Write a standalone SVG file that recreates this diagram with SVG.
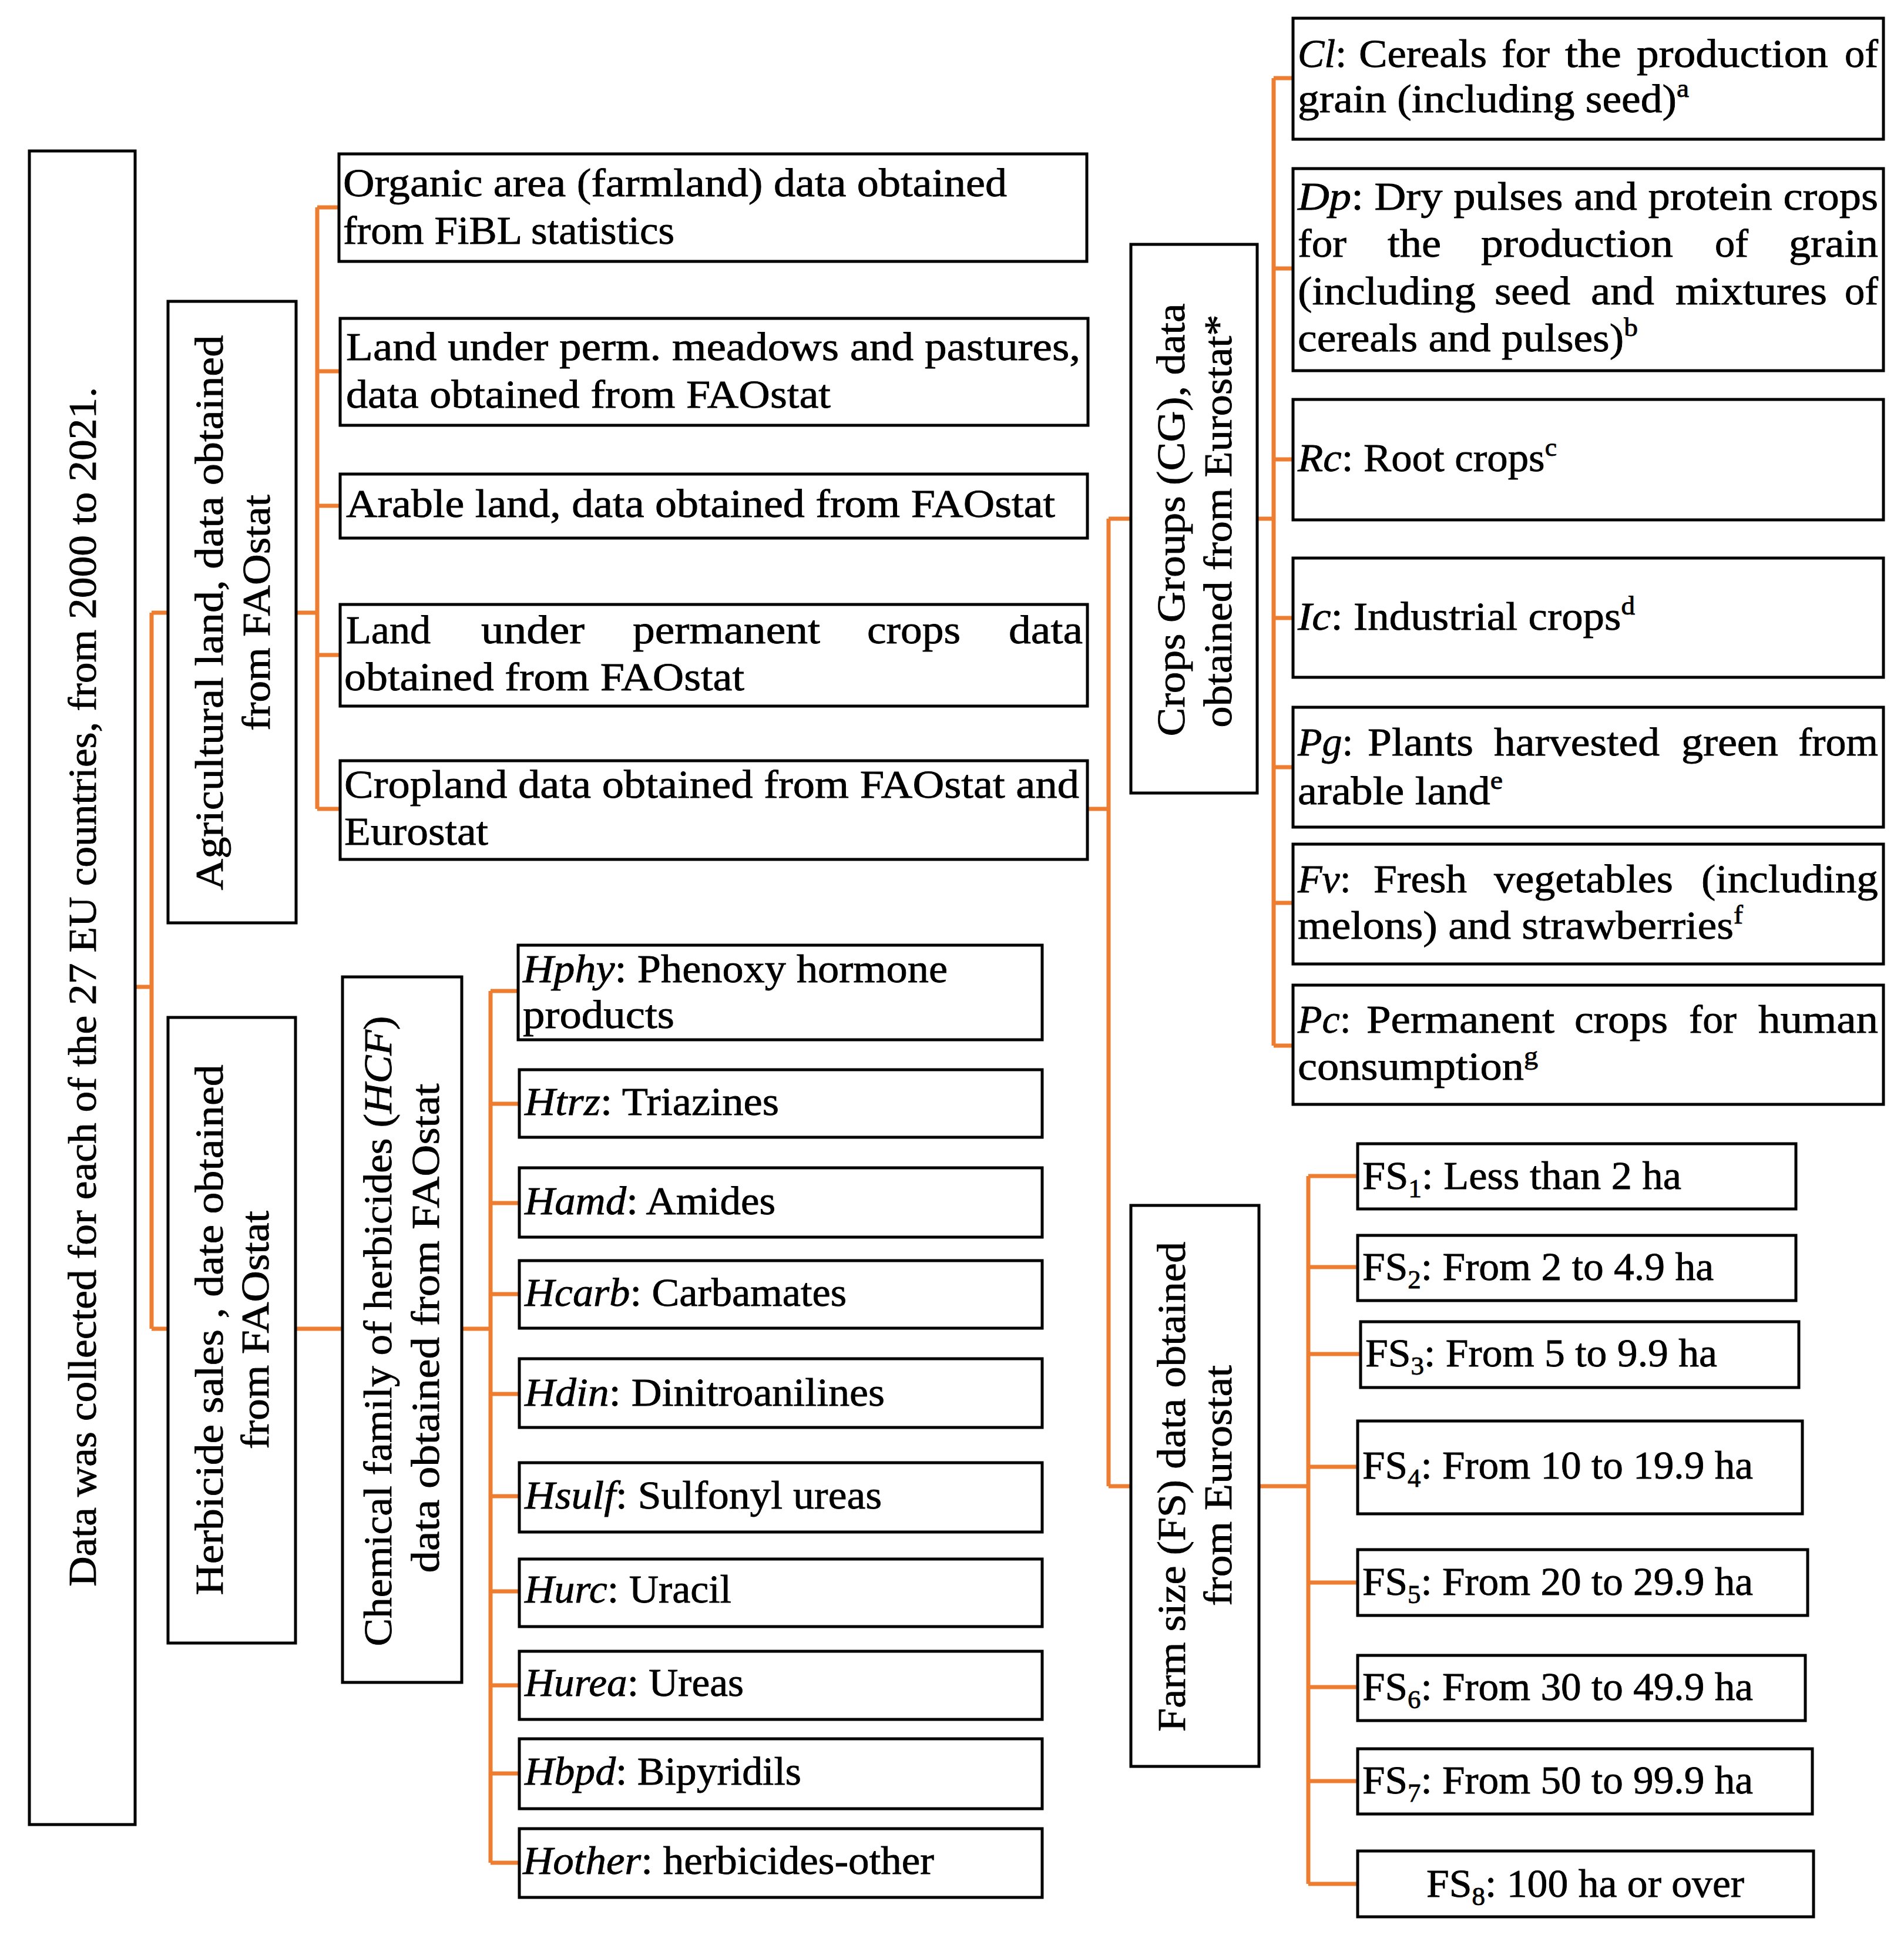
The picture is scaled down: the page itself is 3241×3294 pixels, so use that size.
<svg xmlns="http://www.w3.org/2000/svg" width="3241" height="3294" viewBox="0 0 3241 3294">
<style>
.box{fill:#fff;stroke:#000;stroke-width:5}
.con{fill:none;stroke:#ED7D31;stroke-width:7}
text{font-family:"Liberation Serif","Times New Roman",serif;font-size:68px;fill:#000;stroke:#000;stroke-width:0.8}
.i{font-style:italic}
.sup{font-size:44px}
</style>
<rect width="3241" height="3294" fill="#fff"/>
<g id="connectors">
<path class="con" d="M230 1680H258M258 1043V2262M258 1043H286M258 2262H286"/>
<path class="con" d="M504 1043H540M540 353V1377M540 353H577M540 632H579M540 861H579M540 1115H579M540 1377H579"/>
<path class="con" d="M503 2262H583M786 2262H835M835 1687V3171M835 1687H882M835 1879H884M835 2048H884M835 2203H884M835 2373H884M835 2547H884M835 2709H884M835 2869H884M835 3019H884M835 3171H884"/>
<path class="con" d="M1851 1377H1887M1887 883V2530M1887 883H1925M1887 2530H1925"/>
<path class="con" d="M2140 883H2168M2168 133V1780M2168 133H2201M2168 457H2201M2168 782H2201M2168 1052H2201M2168 1306H2201M2168 1537H2201M2168 1780H2201"/>
<path class="con" d="M2143 2530H2227M2227 2002V3207M2227 2002H2311M2227 2157H2311M2227 2305H2316M2227 2497H2311M2227 2694H2311M2227 2872H2311M2227 3032H2311M2227 3207H2311"/>
</g>
<g id="main">
<rect class="box" x="50" y="257" width="180" height="2849"/>
<text transform="translate(163,1680) rotate(-90)" text-anchor="middle" textLength="2042" lengthAdjust="spacingAndGlyphs">Data was collected for each of the 27 EU countries, from 2000 to 2021.</text>
</g>
<g id="agri">
<rect class="box" x="286" y="513" width="218" height="1058"/>
<text transform="translate(379,1043) rotate(-90)" text-anchor="middle" textLength="945" lengthAdjust="spacingAndGlyphs">Agricultural land, data obtained</text>
<text transform="translate(459,1043) rotate(-90)" text-anchor="middle" textLength="402" lengthAdjust="spacingAndGlyphs">from FAOstat</text>
</g>
<g id="herb">
<rect class="box" x="286" y="1732" width="217" height="1065"/>
<text transform="translate(379,2264) rotate(-90)" text-anchor="middle" textLength="903" lengthAdjust="spacingAndGlyphs">Herbicide sales , date obtained</text>
<text transform="translate(457,2264) rotate(-90)" text-anchor="middle" textLength="406" lengthAdjust="spacingAndGlyphs">from FAOstat</text>
</g>
<g id="hcf">
<rect class="box" x="583" y="1663" width="203" height="1201"/>
<text transform="translate(666,2266) rotate(-90)" text-anchor="middle" textLength="1073" lengthAdjust="spacingAndGlyphs">Chemical family of herbicides (<tspan class="i">HCF</tspan>)</text>
<text transform="translate(747,2261) rotate(-90)" text-anchor="middle" textLength="833" lengthAdjust="spacingAndGlyphs">data obtained from FAOstat</text>
</g>
<g id="organic">
<rect class="box" x="577" y="262" width="1273" height="183"/>
<text x="584" y="334" textLength="1130" lengthAdjust="spacingAndGlyphs">Organic area (farmland) data obtained</text>
<text x="584" y="415" textLength="564" lengthAdjust="spacingAndGlyphs">from FiBL statistics</text>
</g>
<g id="meadows">
<rect class="box" x="579" y="542" width="1273" height="182"/>
<text x="589" y="613" textLength="1250" lengthAdjust="spacingAndGlyphs">Land under perm. meadows and pastures,</text>
<text x="589" y="694" textLength="825" lengthAdjust="spacingAndGlyphs">data obtained from FAOstat</text>
</g>
<g id="arable">
<rect class="box" x="579" y="807" width="1272" height="109"/>
<text x="589" y="880" textLength="1207" lengthAdjust="spacingAndGlyphs">Arable land, data obtained from FAOstat</text>
</g>
<g id="permcrops">
<rect class="box" x="579" y="1029" width="1272" height="173"/>
<text y="1095"><tspan x="589" textLength="144" lengthAdjust="spacingAndGlyphs">Land</tspan> <tspan x="819" textLength="176" lengthAdjust="spacingAndGlyphs">under</tspan> <tspan x="1077" textLength="319" lengthAdjust="spacingAndGlyphs">permanent</tspan> <tspan x="1476" textLength="159" lengthAdjust="spacingAndGlyphs">crops</tspan> <tspan x="1717" textLength="126" lengthAdjust="spacingAndGlyphs">data</tspan></text>
<text x="586" y="1175" textLength="681" lengthAdjust="spacingAndGlyphs">obtained from FAOstat</text>
</g>
<g id="cropland">
<rect class="box" x="579" y="1295" width="1272" height="168"/>
<text x="586" y="1358" textLength="1251" lengthAdjust="spacingAndGlyphs">Cropland data obtained from FAOstat and</text>
<text x="586" y="1438" textLength="245" lengthAdjust="spacingAndGlyphs">Eurostat</text>
</g>
<g id="hphy">
<rect class="box" x="882" y="1609" width="892" height="161"/>
<text x="890" y="1672" textLength="723" lengthAdjust="spacingAndGlyphs"><tspan class="i">Hphy</tspan>: Phenoxy hormone</text>
<text x="890" y="1750" textLength="258" lengthAdjust="spacingAndGlyphs">products</text>
</g>
<g id="htrz">
<rect class="box" x="884" y="1821" width="890" height="115"/>
<text x="893" y="1898" textLength="433" lengthAdjust="spacingAndGlyphs"><tspan class="i">Htrz</tspan>: Triazines</text>
</g>
<g id="hamd">
<rect class="box" x="884" y="1988" width="890" height="118"/>
<text x="893" y="2067" textLength="427" lengthAdjust="spacingAndGlyphs"><tspan class="i">Hamd</tspan>: Amides</text>
</g>
<g id="hcarb">
<rect class="box" x="884" y="2146" width="890" height="115"/>
<text x="893" y="2223" textLength="548" lengthAdjust="spacingAndGlyphs"><tspan class="i">Hcarb</tspan>: Carbamates</text>
</g>
<g id="hdin">
<rect class="box" x="884" y="2313" width="890" height="117"/>
<text x="893" y="2393" textLength="613" lengthAdjust="spacingAndGlyphs"><tspan class="i">Hdin</tspan>: Dinitroanilines</text>
</g>
<g id="hsulf">
<rect class="box" x="884" y="2490" width="890" height="118"/>
<text x="893" y="2568" textLength="608" lengthAdjust="spacingAndGlyphs"><tspan class="i">Hsulf</tspan>: Sulfonyl ureas</text>
</g>
<g id="hurc">
<rect class="box" x="884" y="2654" width="890" height="115"/>
<text x="893" y="2728" textLength="352" lengthAdjust="spacingAndGlyphs"><tspan class="i">Hurc</tspan>: Uracil</text>
</g>
<g id="hurea">
<rect class="box" x="884" y="2811" width="890" height="116"/>
<text x="893" y="2887" textLength="373" lengthAdjust="spacingAndGlyphs"><tspan class="i">Hurea</tspan>: Ureas</text>
</g>
<g id="hbpd">
<rect class="box" x="884" y="2960" width="890" height="119"/>
<text x="893" y="3038" textLength="471" lengthAdjust="spacingAndGlyphs"><tspan class="i">Hbpd</tspan>: Bipyridils</text>
</g>
<g id="hother">
<rect class="box" x="884" y="3113" width="890" height="117"/>
<text x="890" y="3190" textLength="700" lengthAdjust="spacingAndGlyphs"><tspan class="i">Hother</tspan>: herbicides-other</text>
</g>
<g id="cg">
<rect class="box" x="1925" y="416" width="215" height="934"/>
<text transform="translate(2016,885) rotate(-90)" text-anchor="middle" textLength="737" lengthAdjust="spacingAndGlyphs">Crops Groups (CG), data</text>
<text transform="translate(2096,887) rotate(-90)" text-anchor="middle" textLength="703" lengthAdjust="spacingAndGlyphs">obtained from Eurostat*</text>
</g>
<g id="cl">
<rect class="box" x="2201" y="31" width="1005" height="206"/>
<text y="114"><tspan x="2209" class="i">Cl</tspan>: <tspan x="2313" textLength="218" lengthAdjust="spacingAndGlyphs">Cereals</tspan> <tspan x="2556" textLength="82" lengthAdjust="spacingAndGlyphs">for</tspan> <tspan x="2664" textLength="96" lengthAdjust="spacingAndGlyphs">the</tspan> <tspan x="2786" textLength="326" lengthAdjust="spacingAndGlyphs">production</tspan> <tspan x="3140" textLength="57" lengthAdjust="spacingAndGlyphs">of</tspan></text>
<text x="2209" y="191" textLength="666" lengthAdjust="spacingAndGlyphs">grain (including seed)<tspan class="sup" dy="-26">a</tspan></text>
</g>
<g id="dp">
<rect class="box" x="2201" y="287" width="1005" height="344"/>
<text x="2209" y="357" textLength="988" lengthAdjust="spacingAndGlyphs"><tspan class="i">Dp</tspan>: Dry pulses and protein crops</text>
<text y="437"><tspan x="2209" textLength="83" lengthAdjust="spacingAndGlyphs">for</tspan> <tspan x="2362" textLength="91" lengthAdjust="spacingAndGlyphs">the</tspan> <tspan x="2521" textLength="327" lengthAdjust="spacingAndGlyphs">production</tspan> <tspan x="2919" textLength="57" lengthAdjust="spacingAndGlyphs">of</tspan> <tspan x="3045" textLength="152" lengthAdjust="spacingAndGlyphs">grain</tspan></text>
<text y="518"><tspan x="2209" textLength="303" lengthAdjust="spacingAndGlyphs">(including</tspan> <tspan x="2544" textLength="129" lengthAdjust="spacingAndGlyphs">seed</tspan> <tspan x="2708" textLength="108" lengthAdjust="spacingAndGlyphs">and</tspan> <tspan x="2852" textLength="258" lengthAdjust="spacingAndGlyphs">mixtures</tspan> <tspan x="3140" textLength="57" lengthAdjust="spacingAndGlyphs">of</tspan></text>
<text x="2209" y="598" textLength="579" lengthAdjust="spacingAndGlyphs">cereals and pulses)<tspan class="sup" dy="-26">b</tspan></text>
</g>
<g id="rc">
<rect class="box" x="2201" y="680" width="1005" height="205"/>
<text x="2209" y="802" textLength="441" lengthAdjust="spacingAndGlyphs"><tspan class="i">Rc</tspan>: Root crops<tspan class="sup" dy="-26">c</tspan></text>
</g>
<g id="ic">
<rect class="box" x="2201" y="950" width="1005" height="203"/>
<text x="2209" y="1072" textLength="574" lengthAdjust="spacingAndGlyphs"><tspan class="i">Ic</tspan>: Industrial crops<tspan class="sup" dy="-26">d</tspan></text>
</g>
<g id="pg">
<rect class="box" x="2201" y="1204" width="1005" height="204"/>
<text y="1286"><tspan x="2209" class="i">Pg</tspan>: <tspan x="2328" textLength="180" lengthAdjust="spacingAndGlyphs">Plants</tspan> <tspan x="2543" textLength="282" lengthAdjust="spacingAndGlyphs">harvested</tspan> <tspan x="2862" textLength="165" lengthAdjust="spacingAndGlyphs">green</tspan> <tspan x="3061" textLength="136" lengthAdjust="spacingAndGlyphs">from</tspan></text>
<text x="2209" y="1369" textLength="349" lengthAdjust="spacingAndGlyphs">arable land<tspan class="sup" dy="-26">e</tspan></text>
</g>
<g id="fv">
<rect class="box" x="2201" y="1437" width="1005" height="204"/>
<text y="1519"><tspan x="2209" class="i">Fv</tspan>: <tspan x="2338" textLength="159" lengthAdjust="spacingAndGlyphs">Fresh</tspan> <tspan x="2543" textLength="305" lengthAdjust="spacingAndGlyphs">vegetables</tspan> <tspan x="2896" textLength="301" lengthAdjust="spacingAndGlyphs">(including</tspan></text>
<text x="2209" y="1598" textLength="758" lengthAdjust="spacingAndGlyphs">melons) and strawberries<tspan class="sup" dy="-26">f</tspan></text>
</g>
<g id="pc">
<rect class="box" x="2201" y="1677" width="1005" height="203"/>
<text y="1758"><tspan x="2209" class="i">Pc</tspan>: <tspan x="2326" textLength="320" lengthAdjust="spacingAndGlyphs">Permanent</tspan> <tspan x="2680" textLength="159" lengthAdjust="spacingAndGlyphs">crops</tspan> <tspan x="2875" textLength="81" lengthAdjust="spacingAndGlyphs">for</tspan> <tspan x="2993" textLength="204" lengthAdjust="spacingAndGlyphs">human</tspan></text>
<text x="2209" y="1838" textLength="409" lengthAdjust="spacingAndGlyphs">consumption<tspan class="sup" dy="-26">g</tspan></text>
</g>
<g id="fs">
<rect class="box" x="1925" y="2052" width="218" height="955"/>
<text transform="translate(2017,2531) rotate(-90)" text-anchor="middle" textLength="834" lengthAdjust="spacingAndGlyphs">Farm size (FS) data obtained</text>
<text transform="translate(2096,2529) rotate(-90)" text-anchor="middle" textLength="410" lengthAdjust="spacingAndGlyphs">from Eurostat</text>
</g>
<g id="fs1">
<rect class="box" x="2311" y="1947" width="746" height="111"/>
<text x="2319" y="2024" textLength="543" lengthAdjust="spacingAndGlyphs">FS<tspan class="sup" dy="14">1</tspan><tspan dy="-14">: Less than 2 ha</tspan></text>
</g>
<g id="fs2">
<rect class="box" x="2311" y="2103" width="746" height="111"/>
<text x="2319" y="2179" textLength="598" lengthAdjust="spacingAndGlyphs">FS<tspan class="sup" dy="14">2</tspan><tspan dy="-14">: From 2 to 4.9 ha</tspan></text>
</g>
<g id="fs3">
<rect class="box" x="2316" y="2250" width="746" height="112"/>
<text x="2324" y="2326" textLength="599" lengthAdjust="spacingAndGlyphs">FS<tspan class="sup" dy="14">3</tspan><tspan dy="-14">: From 5 to 9.9 ha</tspan></text>
</g>
<g id="fs4">
<rect class="box" x="2311" y="2419" width="757" height="158"/>
<text x="2319" y="2517" textLength="665" lengthAdjust="spacingAndGlyphs">FS<tspan class="sup" dy="14">4</tspan><tspan dy="-14">: From 10 to 19.9 ha</tspan></text>
</g>
<g id="fs5">
<rect class="box" x="2311" y="2638" width="766" height="112"/>
<text x="2319" y="2715" textLength="665" lengthAdjust="spacingAndGlyphs">FS<tspan class="sup" dy="14">5</tspan><tspan dy="-14">: From 20 to 29.9 ha</tspan></text>
</g>
<g id="fs6">
<rect class="box" x="2311" y="2818" width="762" height="111"/>
<text x="2319" y="2894" textLength="665" lengthAdjust="spacingAndGlyphs">FS<tspan class="sup" dy="14">6</tspan><tspan dy="-14">: From 30 to 49.9 ha</tspan></text>
</g>
<g id="fs7">
<rect class="box" x="2311" y="2977" width="774" height="111"/>
<text x="2319" y="3053" textLength="665" lengthAdjust="spacingAndGlyphs">FS<tspan class="sup" dy="14">7</tspan><tspan dy="-14">: From 50 to 99.9 ha</tspan></text>
</g>
<g id="fs8">
<rect class="box" x="2311" y="3151" width="776" height="112"/>
<text x="2428" y="3229" textLength="541" lengthAdjust="spacingAndGlyphs">FS<tspan class="sup" dy="14">8</tspan><tspan dy="-14">: 100 ha or over</tspan></text>
</g>
</svg>
